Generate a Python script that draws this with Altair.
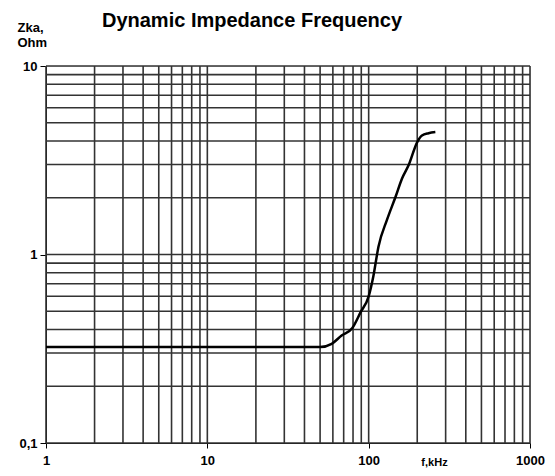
import altair as alt
import pandas as pd

# Curve values
freq_khz = [1, 50, 59, 68, 79, 89, 100, 107, 115, 130, 147, 161, 177, 200, 214, 235, 259]
z_ohm = [0.323, 0.323, 0.336, 0.372, 0.406, 0.493, 0.60, 0.77, 1.1, 1.53, 2.03, 2.53, 2.98, 3.95, 4.28, 4.40, 4.46]

# Grid positions (log grid)
grid_x = [m * d for d in [1, 10, 100] for m in range(1, 10)] + [1000]
grid_y = [round(m * d, 3) for d in [0.1, 1] for m in range(1, 10)] + [10]

x_ticks = [1, 10, 100, 1000]
y_ticks = [0.1, 1, 10]

FONT = "Liberation Sans"
GRID = "#333333"

curve = pd.DataFrame({"f": freq_khz, "z": z_ohm})
gx = pd.DataFrame({"f": grid_x})
gy = pd.DataFrame({"z": grid_y})

xscale = alt.Scale(type="log", domain=[1, 1000], nice=False)
yscale = alt.Scale(type="log", domain=[0.1, 10], nice=False)

xaxis = alt.Axis(values=x_ticks, labelExpr="format(datum.value, 'd')", grid=False,
                 tickSize=5, tickColor="black", domainColor="black", labelColor="black",
                 labelFont=FONT, labelFontWeight="bold", labelFontSize=13, labelPadding=6,
                 labelFlush=False, labelOverlap=False,
                 title="f,kHz", titleX=388, titleY=19, titleBaseline="middle", titleAlign="center",
                 titleFont=FONT, titleFontSize=11, titleFontWeight="bold", titleColor="black")
yaxis = alt.Axis(values=y_ticks, labelExpr="replace(format(datum.value, '~g'), '.', ',')", grid=False,
                 tickSize=6, tickColor="black", domainColor="black", labelColor="black",
                 labelFont=FONT, labelFontWeight="bold", labelFontSize=13, labelPadding=3,
                 labelOverlap=False,
                 title=["Zka,", "Ohm"], titleAngle=0, titleAlign="left", titleBaseline="top",
                 titleX=-29, titleY=-45, titleFont=FONT, titleFontSize=13, titleFontWeight="bold",
                 titleLineHeight=15, titleColor="black")

vgrid = alt.Chart(gx).mark_rule(color=GRID, strokeWidth=1.6).encode(
    x=alt.X("f:Q", scale=xscale, axis=xaxis))
hgrid = alt.Chart(gy).mark_rule(color=GRID, strokeWidth=1.6).encode(
    y=alt.Y("z:Q", scale=yscale, axis=yaxis))
line = alt.Chart(curve).mark_line(color="black", strokeWidth=2.5, clip=True,
                                  interpolate="monotone").encode(
    x=alt.X("f:Q", scale=xscale, axis=xaxis),
    y=alt.Y("z:Q", scale=yscale, axis=yaxis))

chart = alt.layer(vgrid, hgrid, line).properties(
    width=484, height=377,
    autosize=alt.AutoSizeParams(type="none"),
    padding={"left": 38, "top": 58, "right": 17, "bottom": 25},
    title=alt.TitleParams("Dynamic Impedance Frequency", font=FONT, fontSize=20, fontWeight="bold",
                          color="black", anchor="middle", frame="group", dx=-36, offset=-26,
                          baseline="alphabetic"),
).configure_view(stroke="#333", strokeWidth=1).configure(background="white")

chart.save("out.html", embed_options={"renderer": "svg", "actions": False})
